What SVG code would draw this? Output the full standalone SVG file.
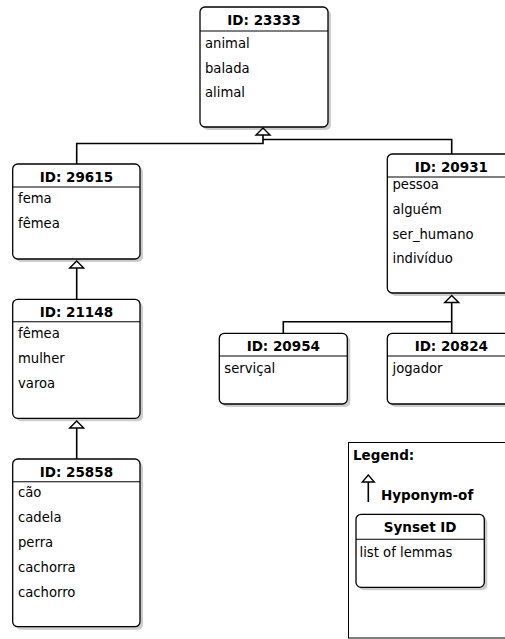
<svg xmlns="http://www.w3.org/2000/svg" width="505" height="639" viewBox="0 0 505 639">
<style>
.sh{fill:#000;opacity:0.2}
.bx{fill:#fff;stroke:#000;stroke-width:1.3}
.hl{stroke:#000;stroke-width:1.1}
.t{font-family:"DejaVu Sans",sans-serif;font-size:13.5px;font-weight:bold;text-anchor:middle;fill:#000}
.l{font-family:"DejaVu Sans",sans-serif;font-size:13.2px;fill:#000}
.e{fill:none;stroke:#000;stroke-width:1.6}
.ah{fill:#fff;stroke:#000;stroke-width:1.4;stroke-linejoin:miter}
</style>
<rect width="505" height="639" fill="#fff"/>
<g id="edges">
<path class="e" d="M76.7 164V143.5H263V135"/>
<path class="e" d="M451.7 154V139.5H263"/>
<path class="e" d="M76.7 299V268"/>
<path class="e" d="M76.7 459V428"/>
<path class="e" d="M283.3 333V321.7H451.7"/>
<path class="e" d="M451.7 333V303"/>
<path class="ah" d="M263 128L256 135H270Z"/>
<path class="ah" d="M76.7 261L69.7 268H83.7Z"/>
<path class="ah" d="M76.7 421L69.7 428H83.7Z"/>
<path class="ah" d="M451.7 295.5L444.7 302.5H458.7Z"/>
</g>
<g id="n23333">
<rect class="sh" x="203" y="10" width="128" height="120" rx="5"/>
<rect class="bx" x="200" y="7" width="128" height="120" rx="5"/>
<line class="hl" x1="200" y1="31" x2="328" y2="31"/>
<text class="t" x="264" y="25">ID: 23333</text>
<text class="l" x="205" y="48">animal</text>
<text class="l" x="205" y="73">balada</text>
<text class="l" x="205" y="97">alimal</text>
</g>
<g id="n29615">
<rect class="sh" x="15.7" y="167" width="127.3" height="95" rx="5"/>
<rect class="bx" x="12.7" y="164" width="127.3" height="95" rx="5"/>
<line class="hl" x1="12.7" y1="187" x2="140" y2="187"/>
<text class="t" x="76.4" y="182">ID: 29615</text>
<text class="l" x="18" y="203">fema</text>
<text class="l" x="18" y="228">fêmea</text>
</g>
<g id="n20931">
<rect class="sh" x="390.3" y="157" width="128" height="139" rx="5"/>
<rect class="bx" x="387.3" y="154" width="128" height="139" rx="5"/>
<line class="hl" x1="387.3" y1="177" x2="515.3" y2="177"/>
<text class="t" x="451.3" y="172">ID: 20931</text>
<text class="l" x="392.5" y="188.5">pessoa</text>
<text class="l" x="392.5" y="213.5">alguém</text>
<text class="l" x="392.5" y="238.5">ser_humano</text>
<text class="l" x="392.5" y="263">indivíduo</text>
</g>
<g id="n21148">
<rect class="sh" x="15.7" y="302.3" width="127.3" height="119" rx="5"/>
<rect class="bx" x="12.7" y="299.3" width="127.3" height="119" rx="5"/>
<line class="hl" x1="12.7" y1="321.7" x2="140" y2="321.7"/>
<text class="t" x="76.4" y="316.5">ID: 21148</text>
<text class="l" x="18" y="338.3">fêmea</text>
<text class="l" x="18" y="363.3">mulher</text>
<text class="l" x="18" y="388.3">varoa</text>
</g>
<g id="n20954">
<rect class="sh" x="222.3" y="336.3" width="128" height="70.7" rx="5"/>
<rect class="bx" x="219.3" y="333.3" width="128" height="70.7" rx="5"/>
<line class="hl" x1="219.3" y1="356" x2="347.3" y2="356"/>
<text class="t" x="283.3" y="351">ID: 20954</text>
<text class="l" x="224.3" y="373">serviçal</text>
</g>
<g id="n20824">
<rect class="sh" x="390.3" y="336.3" width="128" height="70.7" rx="5"/>
<rect class="bx" x="387.3" y="333.3" width="128" height="70.7" rx="5"/>
<line class="hl" x1="387.3" y1="356" x2="515.3" y2="356"/>
<text class="t" x="451.3" y="351">ID: 20824</text>
<text class="l" x="392.5" y="373">jogador</text>
</g>
<g id="n25858">
<rect class="sh" x="15.7" y="462" width="127.3" height="167.7" rx="5"/>
<rect class="bx" x="12.7" y="459" width="127.3" height="167.7" rx="5"/>
<line class="hl" x1="12.7" y1="481.7" x2="140" y2="481.7"/>
<text class="t" x="76.4" y="476.5">ID: 25858</text>
<text class="l" x="18" y="497">cão</text>
<text class="l" x="18" y="522">cadela</text>
<text class="l" x="18" y="547">perra</text>
<text class="l" x="18" y="571.5">cachorra</text>
<text class="l" x="18" y="596.5">cachorro</text>
</g>
<g id="legend">
<rect x="348.5" y="442.5" width="170" height="195.5" fill="#fff" stroke="#000" stroke-width="1"/>
<text class="t" x="353" y="460" style="text-anchor:start">Legend:</text>
<path class="e" d="M368.3 482V502"/>
<path class="ah" d="M368.3 475L362.3 482H374.3Z"/>
<text class="t" x="381" y="500" style="text-anchor:start">Hyponym-of</text>
<rect class="sh" x="359" y="517.3" width="128.3" height="73" rx="5"/>
<rect class="bx" x="356" y="514.3" width="128.3" height="73" rx="5"/>
<line class="hl" x1="356" y1="539.3" x2="484.3" y2="539.3"/>
<text class="t" x="420.2" y="531.5">Synset ID</text>
<text class="l" x="359.5" y="556.5">list of lemmas</text>
</g>
</svg>
